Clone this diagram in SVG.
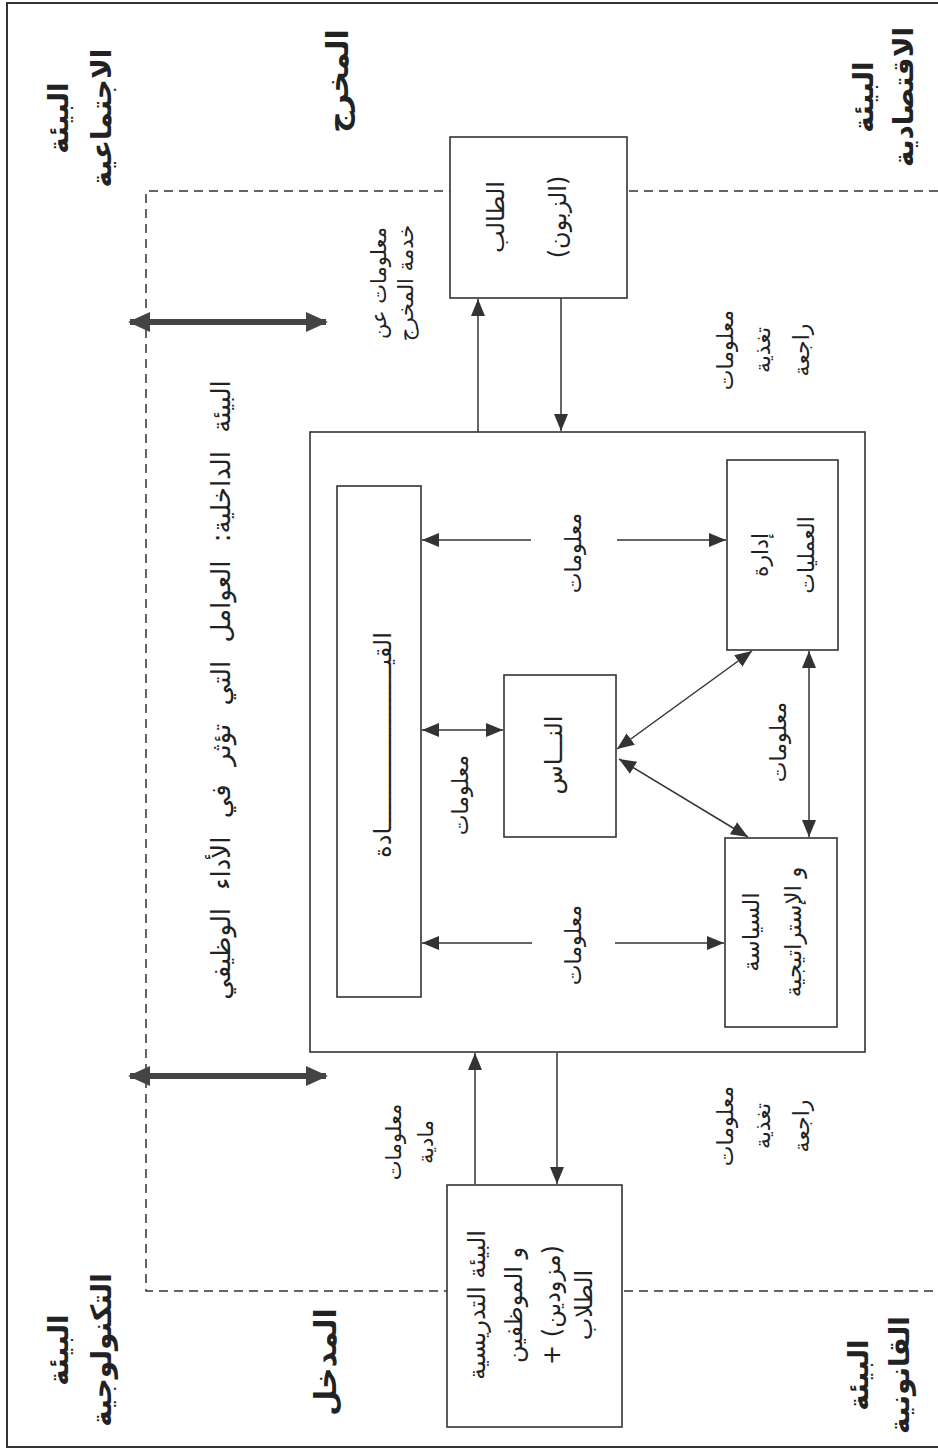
<svg xmlns="http://www.w3.org/2000/svg" width="938" height="1452" viewBox="0 0 938 1452">
<style>
.t{font-family:"DejaVu Sans","Noto Sans",sans-serif;direction:rtl;text-anchor:middle;fill:#222}
.b{font-weight:bold}
.box{fill:#fff;stroke:#333;stroke-width:1.6}
.ln{fill:none;stroke:#333;stroke-width:1.5}
.dash{fill:none;stroke:#333;stroke-width:1.5;stroke-dasharray:9 6}
.thick{fill:none;stroke:#444;stroke-width:6}
</style>
<defs>
<marker id="ah" markerUnits="userSpaceOnUse" markerWidth="17" markerHeight="14" refX="17" refY="7" orient="auto-start-reverse" viewBox="0 0 17 14">
<path d="M0,0 L17,7 L0,14 z" fill="#333"/>
</marker>
<marker id="ahT" markerUnits="userSpaceOnUse" markerWidth="22" markerHeight="22" refX="20" refY="11" orient="auto-start-reverse" viewBox="0 0 22 22">
<path d="M0,1 L22,11 L0,21 z" fill="#444"/>
</marker>
</defs>
<rect width="938" height="1452" fill="#fff"/>
<g id="frame">
<path d="M938,3 H7 V1447 H938" fill="none" stroke="#333" stroke-width="2"/>
<path class="dash" d="M938,191 H146 V1291 H938"/>
</g>
<g id="system">
<rect class="box" x="310" y="432" width="555" height="620"/>
</g>
<g id="connectors">
<line class="thick" x1="130" y1="322" x2="326" y2="322" marker-start="url(#ahT)" marker-end="url(#ahT)"/>
<line class="thick" x1="130" y1="1076" x2="326" y2="1076" marker-start="url(#ahT)" marker-end="url(#ahT)"/>
<line class="ln" x1="478" y1="432" x2="478" y2="299" marker-end="url(#ah)"/>
<line class="ln" x1="561" y1="298" x2="561" y2="431" marker-end="url(#ah)"/>
<line class="ln" x1="475" y1="1184" x2="475" y2="1053" marker-end="url(#ah)"/>
<line class="ln" x1="557" y1="1053" x2="557" y2="1184" marker-end="url(#ah)"/>
<line class="ln" x1="531" y1="540" x2="422" y2="540" marker-end="url(#ah)"/>
<line class="ln" x1="617" y1="540" x2="726" y2="540" marker-end="url(#ah)"/>
<line class="ln" x1="422" y1="730" x2="503" y2="730" marker-start="url(#ah)" marker-end="url(#ah)"/>
<line class="ln" x1="532" y1="943" x2="422" y2="943" marker-end="url(#ah)"/>
<line class="ln" x1="615" y1="943" x2="724" y2="943" marker-end="url(#ah)"/>
<line class="ln" x1="617" y1="749" x2="752" y2="651" marker-start="url(#ah)" marker-end="url(#ah)"/>
<line class="ln" x1="619" y1="759" x2="748" y2="837" marker-start="url(#ah)" marker-end="url(#ah)"/>
<line class="ln" x1="809" y1="651" x2="809" y2="837" marker-start="url(#ah)" marker-end="url(#ah)"/>
</g>
<g id="student">
<rect class="box" x="450" y="137" width="177" height="161"/>
<text class="t" font-size="24" transform="translate(504,217) rotate(-90)"><tspan x="0" dy="0">الطالب</tspan><tspan x="0" dy="62">(الزبون)</tspan></text>
</g>
<g id="leadership">
<rect class="box" x="337" y="486" width="84" height="511"/>
<text class="t" font-size="24" transform="translate(391,745) rotate(-90)">القيـــــــــــــــــــــــادة</text>
</g>
<g id="operations">
<rect class="box" x="727" y="460" width="111" height="190"/>
<text class="t" font-size="22" transform="translate(768,555) rotate(-90)"><tspan x="0" dy="0">إدارة</tspan><tspan x="0" dy="46">العمليات</tspan></text>
</g>
<g id="people">
<rect class="box" x="504" y="675" width="112" height="162"/>
<text class="t" font-size="24" transform="translate(562,755) rotate(-90)">النـــاس</text>
</g>
<g id="policy">
<rect class="box" x="725" y="838" width="112" height="189"/>
<text class="t" font-size="23" transform="translate(759,932) rotate(-90)"><tspan x="0" dy="0">السياسة</tspan><tspan x="0" dy="42">و الإستراتيجية</tspan></text>
</g>
<g id="input">
<rect class="box" x="447" y="1185" width="175" height="242"/>
<text class="t" font-size="24" transform="translate(485,1305) rotate(-90)"><tspan x="0" dy="0">البيئة التدريسية</tspan><tspan x="0" dy="37">و الموظفين</tspan><tspan x="0" dy="38">(مزودين) +</tspan><tspan x="0" dy="32">الطلاب</tspan></text>
</g>
<g id="labels">
<text class="t b" font-size="28" transform="translate(68,118) rotate(-90)"><tspan x="0" dy="0">البيئة</tspan><tspan x="0" dy="43">الاجتماعية</tspan></text>
<text class="t b" font-size="30" transform="translate(348,81) rotate(-90)">المخرج</text>
<text class="t b" font-size="28" transform="translate(873,97) rotate(-90)"><tspan x="0" dy="0">البيئة</tspan><tspan x="0" dy="40">الاقتصادية</tspan></text>
<text class="t" font-size="21" transform="translate(386,283) rotate(-90)"><tspan x="0" dy="0">معلومات عن</tspan><tspan x="0" dy="27">خدمة المخرج</tspan></text>
<text class="t" font-size="22" transform="translate(733,350) rotate(-90)"><tspan x="0" dy="0">معلومات</tspan><tspan x="0" dy="37">تغذية</tspan><tspan x="0" dy="39">راجعة</tspan></text>
<text class="t" font-size="26" transform="translate(230,690) rotate(-90)" word-spacing="10">البيئة الداخلية: العوامل التي تؤثر في الأداء الوظيفي</text>
<text class="t" font-size="22" transform="translate(581,553) rotate(-90)">معلومات</text>
<text class="t" font-size="22" transform="translate(468,795) rotate(-90)">معلومات</text>
<text class="t" font-size="22" transform="translate(786,742) rotate(-90)">معلومات</text>
<text class="t" font-size="22" transform="translate(581,945) rotate(-90)">معلومات</text>
<text class="t" font-size="21" transform="translate(401,1142) rotate(-90)"><tspan x="0" dy="0">معلومات</tspan><tspan x="0" dy="32">مادية</tspan></text>
<text class="t" font-size="22" transform="translate(733,1126) rotate(-90)"><tspan x="0" dy="0">معلومات</tspan><tspan x="0" dy="37">تغذية</tspan><tspan x="0" dy="39">راجعة</tspan></text>
<text class="t b" font-size="30" transform="translate(336,1362) rotate(-90)">المدخل</text>
<text class="t b" font-size="28" transform="translate(68,1350) rotate(-90)"><tspan x="0" dy="0">البيئة</tspan><tspan x="0" dy="43">التكنولوجية</tspan></text>
<text class="t b" font-size="28" transform="translate(868,1375) rotate(-90)"><tspan x="0" dy="0">البيئة</tspan><tspan x="0" dy="41">القانونية</tspan></text>
</g>
</svg>
